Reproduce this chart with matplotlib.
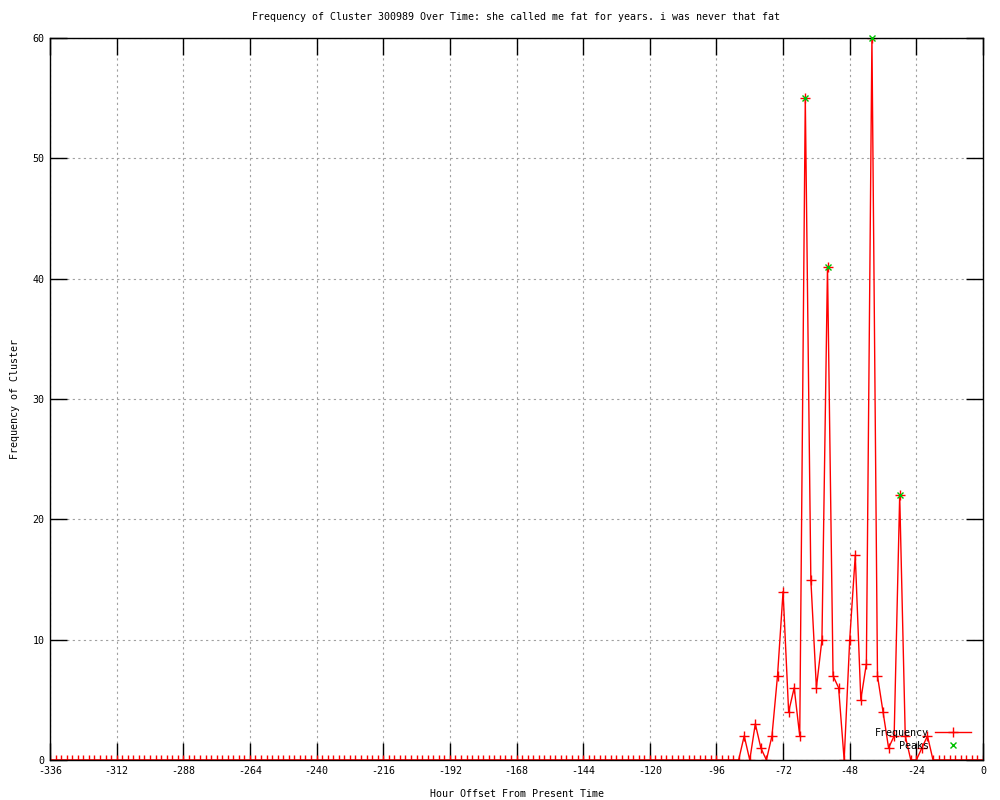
import numpy as np
import matplotlib
matplotlib.use('Agg')
import matplotlib.pyplot as plt

plt.rcParams['font.family'] = 'DejaVu Sans Mono'
plt.rcParams['axes.unicode_minus'] = False

# hours before now, every 2 hours from -336 to 0
hours = np.arange(-336, 1, 2)

# non-zero frequencies (hour -> count), everything else is zero
active_hours = [-86, -82, -80, -76, -74, -72, -70, -68, -66, -64, -62, -60,
                -58, -56, -54, -52, -48, -46, -44, -42, -40, -38, -36, -34,
                -32, -30, -28, -22, -20]
active_counts = [2, 3, 1, 2, 7, 14, 4, 6, 2, 55, 15, 6,
                 10, 41, 7, 6, 10, 17, 5, 8, 60, 7, 4, 1,
                 2, 22, 2, 1, 2]

peak_hours = [-64, -56, -40, -30]
peak_counts = [55, 41, 60, 22]

freq = np.zeros(len(hours))
for h, c in zip(active_hours, active_counts):
    freq[hours == h] = c

fig = plt.figure(figsize=(10, 8), dpi=100)
ax = fig.add_axes([0.05, 0.05, 0.933, 0.9025])

ax.plot(hours, freq, color='red', lw=1, marker='+', markersize=7,
        markeredgewidth=1, label='Frequency', zorder=2)
ax.plot(peak_hours, peak_counts, linestyle='none', color='#00c000',
        marker='x', markersize=5, markeredgewidth=1, label='Peaks',
        clip_on=False, zorder=4)

ax.set_xlim(-336, 0)
ax.set_ylim(0, 60)
ax.set_xticks(np.arange(-336, 1, 24))
ax.set_yticks(np.arange(0, 61, 10))
ax.tick_params(direction='in', length=12, width=1, top=True, right=True,
               labelsize=7.2, pad=4)
ax.grid(True, color='#a0a0a0', linestyle=(0, (2, 3)), lw=0.8)
for s in ax.spines.values():
    s.set_linewidth(1)

ax.set_title('Frequency of Cluster 300989 Over Time: she called me fat for years. i was never that fat',
             fontsize=7.2, pad=13)
ax.set_xlabel('Hour Offset From Present Time', fontsize=7.2, labelpad=10)
ax.set_ylabel('Frequency of Cluster', fontsize=7.2, labelpad=9)

ax.legend(loc='lower right', bbox_to_anchor=(0.995, 0.003), frameon=False,
          markerfirst=False, fontsize=7.2, handlelength=3.6, labelspacing=0.3,
          handletextpad=0.6, borderpad=0.2)

fig.savefig('out.png', dpi=100)
